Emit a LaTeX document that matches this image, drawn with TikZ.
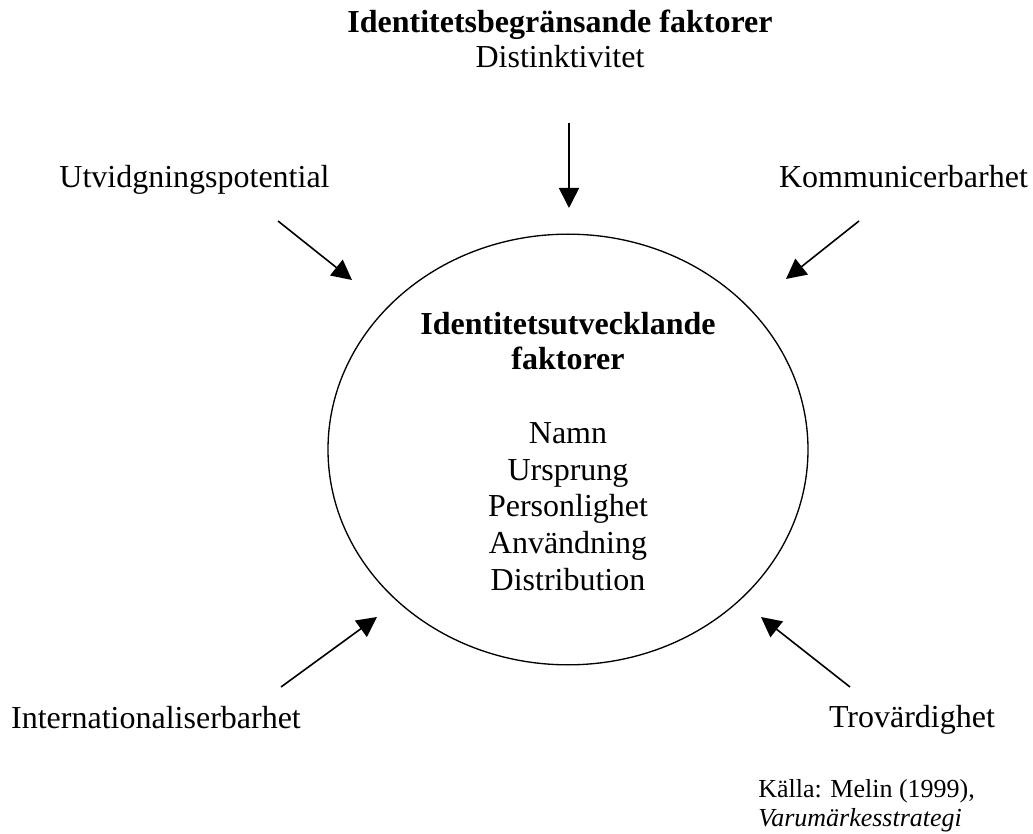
\documentclass[tikz,border=0pt]{standalone}
\usepackage{fontspec}
\setmainfont{Liberation Serif}
\usetikzlibrary{arrows.meta,shapes.geometric}
\begin{document}
\begin{tikzpicture}[x=0.75pt,y=-0.75pt,
  lbl/.style={inner sep=0pt,anchor=base,font=\fontsize{24}{28}\selectfont},
  head/.style={lbl,font=\fontsize{24}{28}\selectfont\bfseries},
  push/.style={line width=1.2pt,-{Triangle[length=15pt,width=15pt]}}]
\useasboundingbox (0,0) rectangle (1033,834);
% central ellipse with the developing factors
\node[ellipse,draw,line width=1pt,minimum width=360pt,minimum height=323pt,inner sep=0pt] (core) at (568,449.5) {};
\node[head] (coretitleA) at (568,335) {Identitetsutvecklande};
\node[head] (coretitleB) at (568,370) {faktorer};
\node[lbl] (namn) at (568,444) {Namn};
\node[lbl] (urspr) at (568,480.5) {Ursprung};
\node[lbl] (pers) at (568,517) {Personlighet};
\node[lbl] (anv) at (568,553.5) {Användning};
\node[lbl] (distr) at (568,590) {Distribution};
% limiting factors around it
\node[head] (toptitle) at (560,33) {Identitetsbegränsande faktorer};
\node[lbl] (dist) at (560,68) {Distinktivitet};
\node[lbl] (utv) at (194.5,188) {Utvidgningspotential};
\node[lbl] (komm) at (903.5,188) {Kommunicerbarhet};
\node[lbl] (intl) at (156,728) {Internationaliserbarhet};
\node[lbl] (trov) at (912,727) {Trovärdighet};
% arrow ends
\coordinate (a1) at (569,123); \coordinate (b1) at (569,208);
\coordinate (a2) at (278,221); \coordinate (b2) at (352,280);
\coordinate (a3) at (859,221); \coordinate (b3) at (786,279);
\coordinate (a4) at (281,687); \coordinate (b4) at (377,617);
\coordinate (a5) at (850,687); \coordinate (b5) at (761,617);
\draw[push] (a1) -- (b1);
\draw[push] (a2) -- (b2);
\draw[push] (a3) -- (b3);
\draw[push] (a4) -- (b4);
\draw[push] (a5) -- (b5);
% source
\node[lbl,anchor=base west,font=\fontsize{19.5}{23}\selectfont] (srcA) at (758,797) {Källa: Melin (1999),};
\node[lbl,anchor=base west,font=\fontsize{19.5}{23}\selectfont\itshape] (srcB) at (758,826) {Varumärkesstrategi};
\end{tikzpicture}
\end{document}
